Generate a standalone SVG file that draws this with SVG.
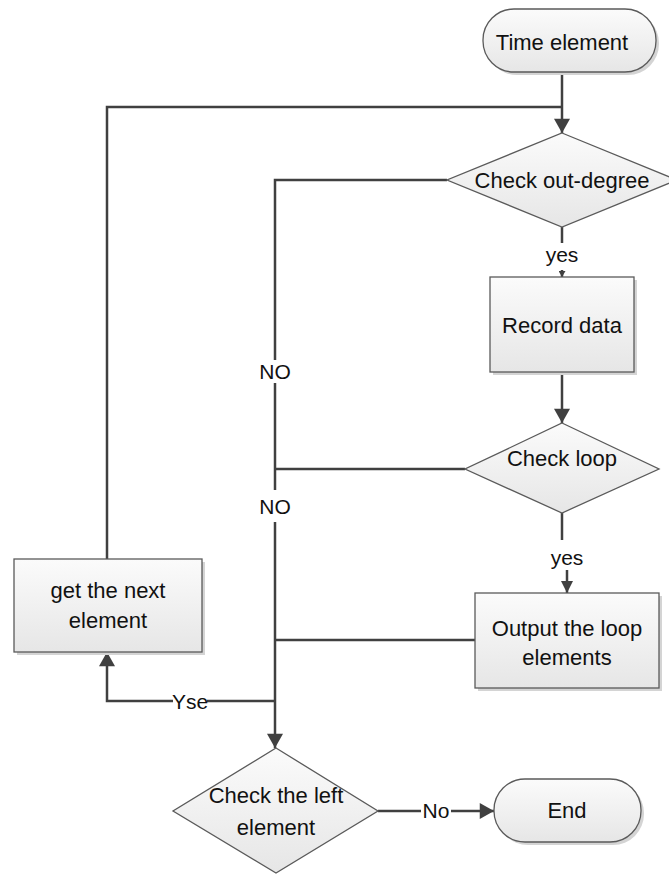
<svg xmlns="http://www.w3.org/2000/svg" width="669" height="874" viewBox="0 0 669 874">
<defs>
<linearGradient id="g" x1="0" y1="0" x2="0" y2="1">
<stop offset="0" stop-color="#fbfbfb"/>
<stop offset="1" stop-color="#e6e6e6"/>
</linearGradient>
<marker id="ah" viewBox="0 0 16 18" refX="16" refY="9" markerWidth="18" markerHeight="16" markerUnits="userSpaceOnUse" orient="auto">
<path d="M0,0 L16,9 L0,18 Z" fill="#404040"/>
</marker>
<marker id="am" viewBox="0 0 12 12" refX="12" refY="6" markerWidth="12" markerHeight="12" markerUnits="userSpaceOnUse" orient="auto">
<path d="M0,0 L12,6 L0,12 Z" fill="#404040"/>
</marker>
<marker id="as" viewBox="0 0 6 7" refX="6" refY="3.5" markerWidth="6" markerHeight="7" markerUnits="userSpaceOnUse" orient="auto">
<path d="M0,0 L6,3.5 L0,7 Z" fill="#404040"/>
</marker>
</defs>
<style>
.shape{fill:url(#g);stroke:#5a5a5a;stroke-width:1.3}
.shadow{fill:#d4d4d4}
.t{font-family:"Liberation Sans",Arial,sans-serif;font-size:22px;fill:#111;text-anchor:middle;dominant-baseline:central}
.lb{font-family:"Liberation Sans",Arial,sans-serif;font-size:21px;fill:#111;text-anchor:middle;dominant-baseline:central}
.c{fill:none;stroke:#404040;stroke-width:2.5}
</style>
<rect width="669" height="874" fill="#fff"/>
<g id="connectors">
<path class="c" d="M562,72 L562,133" marker-end="url(#ah)"/>
<path class="c" d="M107,559 L107,107 L562,107"/>
<path class="c" d="M562,227 L562,243"/>
<path class="c" d="M562,270 L562,277" marker-end="url(#as)" stroke-width="1.5"/>
<path class="c" d="M447,180 L275,180 L275,360"/>
<path class="c" d="M275,383 L275,490"/>
<path class="c" d="M275,522 L275,748" marker-end="url(#ah)"/>
<path class="c" d="M562,372 L562,423" marker-end="url(#ah)"/>
<path class="c" d="M465,469 L275,469"/>
<path class="c" d="M562,513 L562,540"/>
<path class="c" d="M567,570 L567,593" marker-end="url(#am)"/>
<path class="c" d="M475,640 L275,640"/>
<path class="c" d="M275,701 L207,701"/>
<path class="c" d="M173,701 L107,701 L107,652" marker-end="url(#ah)"/>
<path class="c" d="M378,811 L421,811"/>
<path class="c" d="M451,811 L494,811" marker-end="url(#ah)"/>
<text class="lb" x="562" y="254">yes</text>
<text class="lb" x="567" y="557">yes</text>
<text class="lb" x="275" y="371">NO</text>
<text class="lb" x="275" y="506">NO</text>
<text class="lb" x="190" y="701">Yse</text>
<text class="lb" x="436" y="810">No</text>
</g>
<g id="time-element">
<rect class="shadow" x="486" y="12" width="173" height="63" rx="31"/>
<rect class="shape" x="483" y="9" width="173" height="63" rx="31"/>
<text class="t" x="562" y="42">Time element</text>
</g>
<g id="check-out-degree">
<polygon class="shape" points="562,133 677,180 562,227 447,180"/>
<text class="t" x="562" y="180">Check out-degree</text>
</g>
<g id="record-data">
<rect class="shadow" x="493" y="280" width="144" height="95"/>
<rect class="shape" x="490" y="277" width="144" height="95"/>
<text class="t" x="562" y="325">Record data</text>
</g>
<g id="check-loop">
<polygon class="shape" points="562,423 659,469 562,513 465,469"/>
<text class="t" x="562" y="458">Check loop</text>
</g>
<g id="output-loop">
<rect class="shadow" x="478" y="596" width="184" height="95"/>
<rect class="shape" x="475" y="593" width="184" height="95"/>
<text class="t" x="567" y="628">Output the loop</text>
<text class="t" x="567" y="657">elements</text>
</g>
<g id="get-next">
<rect class="shadow" x="17" y="562" width="188" height="93"/>
<rect class="shape" x="14" y="559" width="188" height="93"/>
<text class="t" x="108" y="590">get the next</text>
<text class="t" x="108" y="620">element</text>
</g>
<g id="check-left">
<polygon class="shape" points="276,748 378,811 276,873 173,811"/>
<text class="t" x="276" y="795">Check the left</text>
<text class="t" x="276" y="827">element</text>
</g>
<g id="end">
<rect class="shadow" x="497" y="782" width="147" height="63" rx="31"/>
<rect class="shape" x="494" y="779" width="147" height="63" rx="31"/>
<text class="t" x="567" y="810">End</text>
</g>
</svg>
